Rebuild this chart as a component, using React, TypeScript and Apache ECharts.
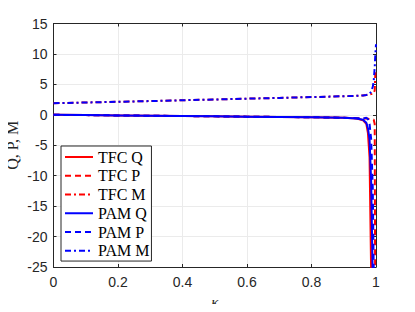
import React, { useEffect, useRef } from "react";
import * as echarts from "echarts";

const kappa = [0, 0.1, 0.2, 0.3, 0.4, 0.5, 0.6, 0.7, 0.8, 0.9, 0.94, 0.96, 0.97, 0.975, 0.98, 0.985, 0.99, 0.993, 0.996, 0.998, 1];

const tfcQ = [0, -0.05, -0.1, -0.15, -0.2, -0.25, -0.3, -0.35, -0.42, -0.5, -0.6, -0.9, -1.5, -3, -7, -26, -40, null, null, null, null];
const tfcP = [0, -0.05, -0.1, -0.15, -0.2, -0.25, -0.3, -0.35, -0.4, -0.48, -0.55, -0.6, -0.6, -0.65, -0.7, -0.7, -0.75, -0.8, -1.5, -40, null];
const tfcM = [1.9, 2.02, 2.14, 2.26, 2.39, 2.52, 2.65, 2.78, 2.91, 3.05, 3.12, 3.18, 3.25, 3.3, 3.35, 3.4, 3.45, 3.6, 4, 7, null];
const pamQ = [0, -0.05, -0.1, -0.15, -0.2, -0.25, -0.3, -0.35, -0.42, -0.5, -0.6, -0.8, -1.3, -2.2, -4, -11, -27, -40, null, null, null];
const pamP = [0, -0.05, -0.1, -0.15, -0.2, -0.25, -0.3, -0.35, -0.4, -0.48, -0.55, -0.6, -0.5, -0.7, -1.5, -4, -12, -26, -40, null, null];
const pamM = [1.9, 2.02, 2.14, 2.26, 2.39, 2.52, 2.65, 2.78, 2.91, 3.05, 3.12, 3.18, 3.25, 3.3, 3.45, 3.8, 4.6, 5.6, 7.8, 10, 11.6];

const seriesNames = ["TFC Q", "TFC P", "TFC M", "PAM Q", "PAM P", "PAM M"];
const seriesValues = [tfcQ, tfcP, tfcM, pamQ, pamP, pamM];
const seriesColors = ["#ff0000", "#ff0000", "#ff0000", "#0000ff", "#0000ff", "#0000ff"];
const seriesDash: any[] = ["solid", [6, 4], [6, 3, 2, 3], "solid", [6, 4], [6, 3, 2, 3]];

const xTicks = { min: 0, max: 1, interval: 0.2 };
const yTicks = { min: -25, max: 15, interval: 5 };

export default function App() {
  const ref = useRef<HTMLDivElement>(null);
  useEffect(() => {
    const chart = echarts.init(ref.current!, null, { renderer: "svg" });
    const axisColor = "#262626";
    const gridColor = "#ebebeb";
    const labelFont = { fontFamily: "Liberation Sans", fontSize: 14, color: axisColor };
    chart.setOption({
      animation: false,
      backgroundColor: "#ffffff",
      grid: { left: 53.5, right: 39, top: 23.5, bottom: 45, containLabel: false, outerBoundsMode: "none" },
      legend: {
        orient: "vertical",
        left: 61,
        top: 146,
        itemWidth: 28,
        itemHeight: 10,
        itemGap: 2.75,
        padding: [3, 2, 2.3, 3],
        borderColor: axisColor,
        borderWidth: 1,
        borderRadius: 0,
        backgroundColor: "#ffffff",
        itemStyle: { opacity: 0 },
        textStyle: { fontFamily: "Liberation Serif", fontSize: 16, lineHeight: 15.5, color: "#000" },
        data: seriesNames,
      },
      xAxis: [
        {
          type: "value",
          min: xTicks.min,
          max: xTicks.max,
          interval: xTicks.interval,
          name: "κ",
          nameLocation: "middle",
          nameGap: 27,
          nameMoveOverlap: false,
          nameTextStyle: { fontFamily: "Liberation Serif", fontStyle: "italic", fontSize: 15, color: axisColor },
          axisLine: { show: true, onZero: false, lineStyle: { color: axisColor } },
          axisTick: { show: true, inside: true, length: 3, lineStyle: { color: axisColor } },
          axisLabel: { ...labelFont, margin: 8 },
          splitLine: { show: true, lineStyle: { color: gridColor } },
        },
        {
          type: "value",
          position: "top",
          min: xTicks.min,
          max: xTicks.max,
          interval: xTicks.interval,
          axisLine: { show: true, onZero: false, lineStyle: { color: axisColor } },
          axisTick: { show: true, inside: true, length: 3, lineStyle: { color: axisColor } },
          axisLabel: { show: false },
          splitLine: { show: false },
        },
      ],
      yAxis: [
        {
          type: "value",
          min: yTicks.min,
          max: yTicks.max,
          interval: yTicks.interval,
          name: "Q, P, M",
          nameLocation: "middle",
          nameRotate: 90,
          nameGap: 33,
          nameMoveOverlap: false,
          nameTextStyle: { fontFamily: "Liberation Serif", fontSize: 16, color: axisColor },
          axisLine: { show: true, onZero: false, lineStyle: { color: axisColor } },
          axisTick: { show: true, inside: true, length: 3, lineStyle: { color: axisColor } },
          axisLabel: { ...labelFont, margin: 6 },
          splitLine: { show: true, lineStyle: { color: gridColor } },
        },
        {
          type: "value",
          position: "right",
          min: yTicks.min,
          max: yTicks.max,
          interval: yTicks.interval,
          axisLine: { show: true, onZero: false, lineStyle: { color: axisColor } },
          axisTick: { show: true, inside: true, length: 3, lineStyle: { color: axisColor } },
          axisLabel: { show: false },
          splitLine: { show: false },
        },
      ],
      series: seriesNames.map((name, i) => ({
        name,
        type: "line",
        xAxisIndex: 0,
        yAxisIndex: 0,
        symbol: "none",
        clip: true,
        connectNulls: false,
        color: seriesColors[i],
        lineStyle: { color: seriesColors[i], width: 2, type: seriesDash[i] },
        data: kappa.map((k, j) => [k, seriesValues[i][j]]),
      })),
    });
    return () => chart.dispose();
  }, []);
  return <div ref={ref} style={{ width: 415, height: 312, margin: -8 }} />;
}
